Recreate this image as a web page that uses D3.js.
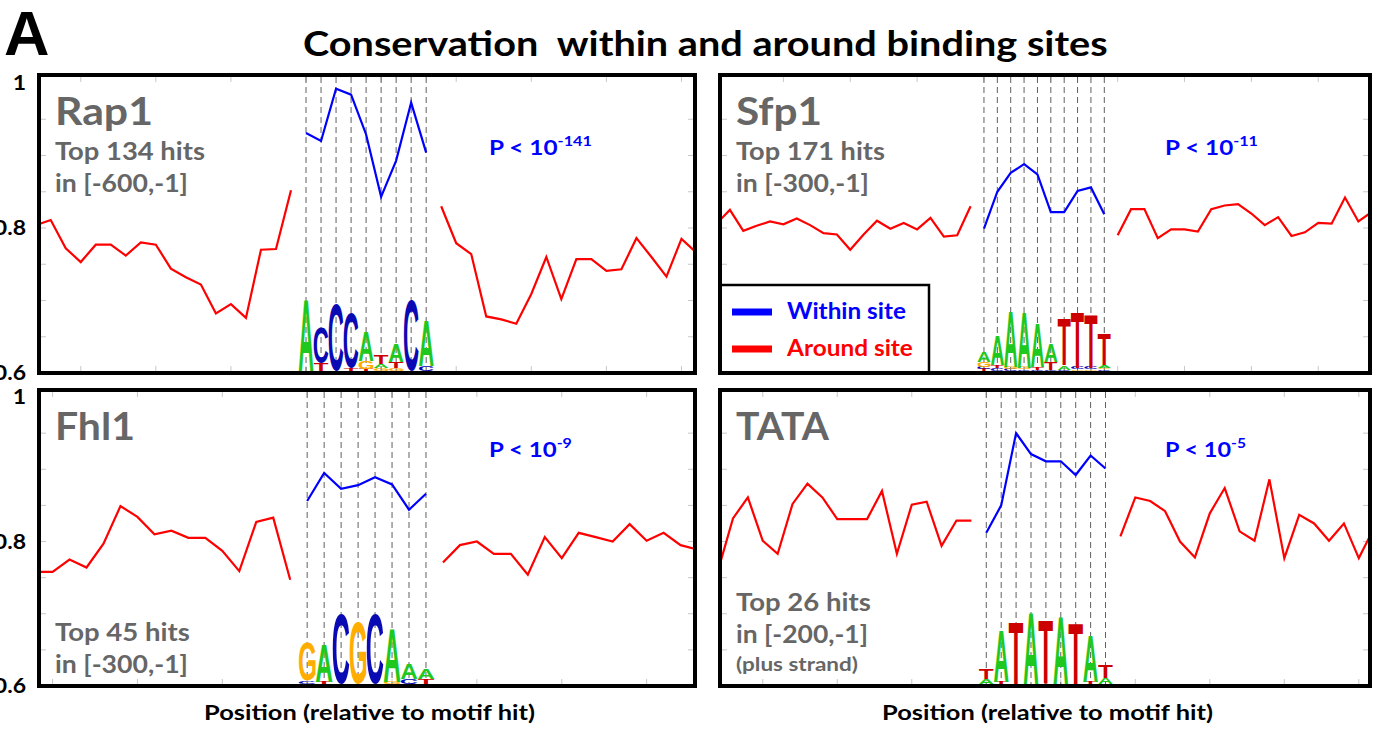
<!DOCTYPE html>
<html>
<head>
<meta charset="utf-8">
<script src="https://cdn.jsdelivr.net/npm/d3@7"></script>
<style>
  body { margin: 0; background: #fff; }
  text { font-family: Lato, "Open Sans", sans-serif; font-weight: bold; }
</style>
</head>
<body>
<svg id="chart" width="1376" height="730"></svg>
<script>
// conservation values (position relative to motif hit)
const rap1Left  = [0.804, 0.811, 0.772, 0.753, 0.777, 0.777, 0.762, 0.780, 0.777, 0.744, 0.732, 0.722, 0.682, 0.695, 0.676, 0.770, 0.771, 0.852];
const rap1Site  = [0.931, 0.920, 0.992, 0.984, 0.929, 0.843, 0.893, 0.973, 0.904];
const rap1Right = [0.830, 0.779, 0.764, 0.678, 0.674, 0.668, 0.709, 0.760, 0.702, 0.757, 0.757, 0.741, 0.743, 0.786, 0.760, 0.733, 0.785, 0.766];

const sfp1Left  = [0.806, 0.825, 0.796, 0.803, 0.809, 0.805, 0.813, 0.804, 0.793, 0.791, 0.770, 0.791, 0.810, 0.799, 0.807, 0.798, 0.814, 0.788, 0.790, 0.830];
const sfp1Site  = [0.799, 0.850, 0.876, 0.888, 0.874, 0.822, 0.822, 0.851, 0.856, 0.819];
const sfp1Right = [0.790, 0.826, 0.826, 0.786, 0.798, 0.798, 0.795, 0.826, 0.831, 0.833, 0.820, 0.804, 0.815, 0.789, 0.794, 0.807, 0.806, 0.842, 0.809, 0.822];

const fhl1Left  = [0.758, 0.758, 0.775, 0.764, 0.797, 0.849, 0.834, 0.810, 0.815, 0.805, 0.805, 0.787, 0.759, 0.827, 0.833, 0.747];
const fhl1Site  = [0.856, 0.895, 0.873, 0.878, 0.889, 0.879, 0.844, 0.866];
const fhl1Right = [0.771, 0.795, 0.800, 0.783, 0.783, 0.754, 0.806, 0.777, 0.812, 0.806, 0.800, 0.824, 0.801, 0.812, 0.795, 0.789];

const tataLeft  = [0.760, 0.832, 0.861, 0.801, 0.783, 0.852, 0.880, 0.861, 0.831, 0.831, 0.831, 0.870, 0.783, 0.851, 0.855, 0.794, 0.829, 0.829];
const tataSite  = [0.812, 0.850, 0.950, 0.921, 0.911, 0.911, 0.892, 0.919, 0.901];
const tataRight = [0.807, 0.861, 0.856, 0.842, 0.800, 0.778, 0.839, 0.874, 0.814, 0.801, 0.886, 0.777, 0.837, 0.825, 0.801, 0.825, 0.777, 0.818];

// sequence logos: per position, letters bottom to top with height in bits
const rap1Logo = [
  [["A", 1.92]], [["T", 0.21], ["C", 0.93]], [["C", 1.79]], [["T", 0.08], ["C", 1.47]],
  [["T", 0.05], ["G", 0.21], ["A", 0.80]], [["G", 0.08], ["A", 0.11], ["T", 0.24]],
  [["G", 0.08], ["T", 0.16], ["A", 0.48]], [["C", 1.89]], [["C", 0.13], ["A", 1.20]]
];
const sfp1Logo = [
  [["T", 0.05], ["C", 0.05], ["G", 0.13], ["A", 0.29]], [["C", 0.08], ["T", 0.08], ["A", 0.80]],
  [["C", 0.05], ["G", 0.05], ["A", 1.47]], [["C", 0.04], ["G", 0.05], ["A", 1.49]],
  [["C", 0.04], ["T", 0.08], ["A", 1.17]], [["C", 0.03], ["T", 0.21], ["A", 0.48]],
  [["C", 0.04], ["A", 0.11], ["T", 1.23]], [["G", 0.04], ["C", 0.05], ["T", 1.49]],
  [["G", 0.04], ["C", 0.05], ["T", 1.41]], [["C", 0.04], ["G", 0.04], ["A", 0.08], ["T", 0.83]]
];
const fhl1Logo = [
  [["C", 0.08], ["G", 1.01]], [["T", 0.05], ["A", 1.01]], [["C", 1.87]], [["G", 1.65]],
  [["C", 1.87]], [["G", 0.05], ["A", 1.41]], [["C", 0.13], ["A", 0.40]], [["T", 0.13], ["A", 0.27]]
];
const tataLogo = [
  [["A", 0.13], ["T", 0.27]], [["T", 0.05], ["A", 1.39]], [["T", 1.65]], [["A", 1.89]],
  [["T", 1.68]], [["A", 1.81]], [["T", 1.63]], [["T", 0.05], ["A", 1.25]], [["A", 0.16], ["T", 0.35]]
];

const yTicks = [0.6, 0.8, 1];
const yTickLabels = ["0.6", "0.8", "1"];

const letterColor = { A: "#1ec81e", C: "#0a0ab4", G: "#ffad00", T: "#cc0000" };

const panels = [
  { name: "Rap1", left: rap1Left, site: rap1Site, right: rap1Right, logo: rap1Logo,
    hits: "Top 134 hits", range: "in [-600,-1]", p: "-141", xlim: [-17.78, 25.9],
    box: [39, 695, 75, 373], yr: [373, 83], infoTop: true, labels: true,
    w: [98, 150, 133, 103], px: 489 },
  { name: "Sfp1", left: sfp1Left, site: sfp1Site, right: sfp1Right, logo: sfp1Logo,
    hits: "Top 171 hits", range: "in [-300,-1]", p: "-11", xlim: [-19.74, 28.87],
    box: [720, 1370, 75, 373], yr: [373, 83], infoTop: true, labels: false,
    w: [86, 149, 133, 93], px: 1165 },
  { name: "Fhl1", left: fhl1Left, site: fhl1Site, right: fhl1Right, logo: fhl1Logo,
    hits: "Top 45 hits", range: "in [-300,-1]", p: "-9", xlim: [-15.8, 22.85],
    box: [39, 695, 390, 686], yr: [686, 397], infoTop: false, labels: true,
    w: [80, 135, 133, 83], px: 489 },
  { name: "TATA", left: tataLeft, site: tataSite, right: tataRight, logo: tataLogo,
    hits: "Top 26 hits", range: "in [-200,-1]", p: "-5", xlim: [-17.87, 25.75],
    box: [720, 1370, 390, 686], yr: [686, 397], infoTop: false, labels: false,
    w: [93, 135, 132, 81], px: 1165, extra: "(plus strand)" }
];

const svg = d3.select("#chart");

// the figure's type is wider than Lato, so stretch texts horizontally about their anchor
function stretch(sel, width) {
  const node = sel.node();
  const w = node.getComputedTextLength();
  const ax = +sel.attr("x");
  sel.attr("transform", "translate(" + ax + ",0) scale(" + (width / w) + ",1) translate(" + (-ax) + ",0)");
  return sel;
}

// ink metrics of logo letters, used to stretch each glyph into its box
const ctx = document.createElement("canvas").getContext("2d");
ctx.font = "bold 100px 'Liberation Sans'";
const ink = {};
["A", "C", "G", "T"].forEach(function(L) {
  const m = ctx.measureText(L);
  ink[L] = { l: m.actualBoundingBoxLeft, r: m.actualBoundingBoxRight,
             a: m.actualBoundingBoxAscent, d: m.actualBoundingBoxDescent };
});

svg.append("text").attr("x", 4).attr("y", 55)
  .style("font-family", "'Liberation Sans', Arial, sans-serif")
  .style("font-size", "63px").text("A");

stretch(svg.append("text").attr("x", 303).attr("y", 56)
  .attr("xml:space", "preserve").style("white-space", "pre")
  .style("font-size", "35px").text("Conservation  within and around binding sites"), 805);

const logoScale = d3.scaleLinear().domain([0, 2]).range([0, 75]);

panels.forEach(function(p, k) {
  const [bx0, bx1, by0, by1] = p.box;
  const x = d3.scaleLinear().domain(p.xlim).range([bx0, bx1]);
  const y = d3.scaleLinear().domain([0.6, 1]).range(p.yr);
  const g = svg.append("g");
  const clipId = "clip" + k;
  g.append("clipPath").attr("id", clipId).append("rect")
    .attr("x", bx0 + 2).attr("y", by0 + 2).attr("width", bx1 - bx0 - 4).attr("height", by1 - by0 - 4);

  // faint inner ticks
  const xt = d3.range(Math.ceil(p.xlim[0] / 5) * 5, p.xlim[1], 5);
  g.selectAll(".xt").data(xt).enter().append("path")
    .attr("d", function(d) { return "M" + x(d) + "," + (by1 - 2) + "v-5M" + x(d) + "," + (by0 + 2) + "v5"; })
    .attr("stroke", "#c8c8c8").attr("stroke-width", 1);
  const yt = d3.range(0.65, 0.99, 0.05);
  g.selectAll(".yt").data(yt).enter().append("path")
    .attr("d", function(d) { return "M" + (bx0 + 2) + "," + y(d) + "h5M" + (bx1 - 2) + "," + y(d) + "h-5"; })
    .attr("stroke", "#c8c8c8").attr("stroke-width", 1);

  // dashed guides at motif positions
  g.selectAll(".guide").data(p.site).enter().append("line")
    .attr("x1", function(d, i) { return x(i); }).attr("x2", function(d, i) { return x(i); })
    .attr("y1", by0 + 2).attr("y2", by1 - 2)
    .attr("stroke", "#606060").attr("stroke-width", 1).attr("stroke-dasharray", "6,4");

  // logo
  const step = x(1) - x(0);
  const lw = step * 0.98;
  const base = by1 - 2;
  p.logo.forEach(function(stack, i) {
    let yb = base;
    stack.forEach(function(s) {
      const h = logoScale(s[1]);
      const m = ink[s[0]];
      const sx = lw / (m.l + m.r), sy = h / (m.a + m.d);
      g.append("text")
        .attr("transform", "translate(" + (x(i) - lw / 2) + "," + yb + ") scale(" + sx + "," + sy + ")")
        .attr("x", m.l).attr("y", -m.d)
        .style("font-family", "'Liberation Sans', Arial, sans-serif")
        .style("font-size", "100px")
        .attr("fill", letterColor[s[0]])
        .text(s[0]);
      yb -= h;
    });
  });

  const line = d3.line().x(function(d) { return x(d[0]); }).y(function(d) { return y(d[1]); });
  const n = p.site.length;
  const leftPts = p.left.map(function(v, i) { return [i - p.left.length, v]; });
  const sitePts = p.site.map(function(v, i) { return [i, v]; });
  const rightPts = p.right.map(function(v, i) { return [n + i, v]; });
  [leftPts, rightPts].forEach(function(pts) {
    g.append("path").datum(pts).attr("d", line).attr("clip-path", "url(#" + clipId + ")")
      .attr("fill", "none").attr("stroke", "#ff0000").attr("stroke-width", 2.2);
  });
  g.append("path").datum(sitePts).attr("d", line)
    .attr("fill", "none").attr("stroke", "#0000ff").attr("stroke-width", 2.2);

  // panel texts
  const tx = bx0 + 16;
  stretch(g.append("text").attr("x", tx).attr("y", by0 + 50).attr("fill", "#666")
    .style("font-size", "38px").text(p.name), p.w[0]);
  const hy = p.infoTop ? by0 + 85 : (p.extra ? by0 + 221 : by0 + 251);
  stretch(g.append("text").attr("x", tx).attr("y", hy).attr("fill", "#666")
    .style("font-size", "24px").text(p.hits), p.w[1]);
  stretch(g.append("text").attr("x", tx).attr("y", hy + 32).attr("fill", "#666")
    .style("font-size", "24px").text(p.range), p.w[2]);
  if (p.extra) {
    stretch(g.append("text").attr("x", tx).attr("y", hy + 60).attr("fill", "#666")
      .style("font-size", "18px").text(p.extra), 122);
  }
  const pt = g.append("text").attr("x", p.px).attr("y", p.infoTop ? by0 + 80 : by0 + 67)
    .attr("fill", "#0000ff").style("font-size", "21px");
  pt.append("tspan").text("P < 10");
  pt.append("tspan").attr("dy", -9).style("font-size", "14px").text(p.p);
  stretch(pt, p.w[3]);

  if (p.labels) {
    g.selectAll(".yl").data(yTicks).enter().append("text")
      .attr("x", 26).attr("y", function(d) { return y(d); }).attr("dy", "0.36em")
      .attr("text-anchor", "end").style("font-size", "20px")
      .text(function(d, i) { return yTickLabels[i]; })
      .each(function() { stretch(d3.select(this), this.getComputedTextLength() * 1.15); });
  }

  if (!p.infoTop) {
    stretch(g.append("text").attr("x", (bx0 + bx1) / 2 + 2.5).attr("y", 720).attr("text-anchor", "middle")
      .style("font-size", "21px").text("Position (relative to motif hit)"), 331);
  }

  // legend sits in the Sfp1 panel
  if (p.name === "Sfp1") {
    const lg = g.append("g");
    lg.append("rect").attr("x", bx0).attr("y", 285).attr("width", 209).attr("height", by1 - 285)
      .attr("fill", "#fff").attr("stroke", "#000").attr("stroke-width", 2.5);
    const items = [["Within site", "#0000ff", 119], ["Around site", "#ff0000", 126]];
    items.forEach(function(it, j) {
      const ly = 312 + j * 37;
      lg.append("line").attr("x1", bx0 + 12).attr("x2", bx0 + 52).attr("y1", ly).attr("y2", ly)
        .attr("stroke", it[1]).attr("stroke-width", 7);
      stretch(lg.append("text").attr("x", bx0 + 67).attr("y", ly + 7).attr("fill", it[1])
        .style("font-size", "22px").text(it[0]), it[2]);
    });
  }

  g.append("rect").attr("x", bx0).attr("y", by0).attr("width", bx1 - bx0).attr("height", by1 - by0)
    .attr("fill", "none").attr("stroke", "#000").attr("stroke-width", 4);
});
</script>
</body>
</html>
